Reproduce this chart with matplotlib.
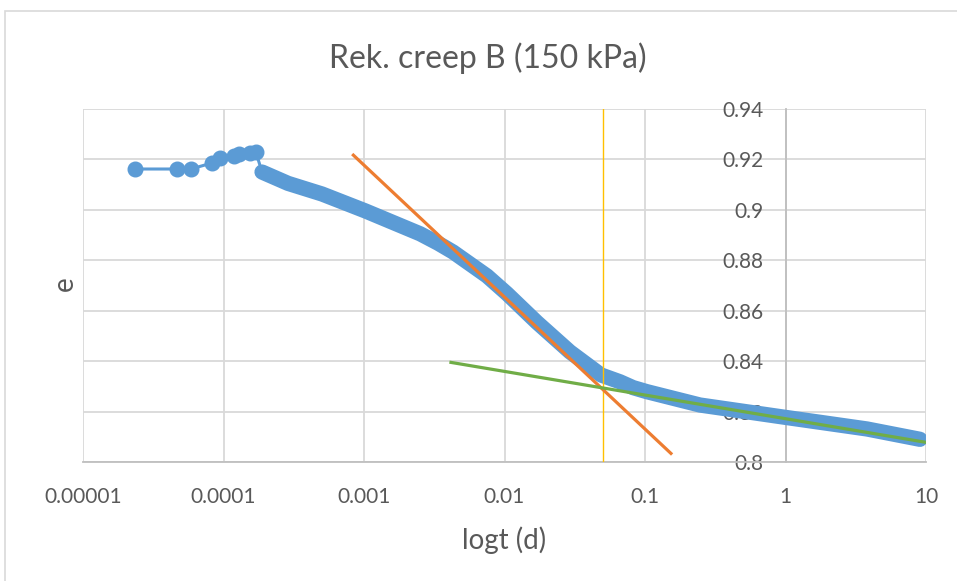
import numpy as np
import matplotlib.pyplot as plt
from matplotlib.patches import Rectangle

plt.rcParams['font.family'] = ['Lato', 'DejaVu Sans']

# measured series: time (d) vs void ratio e
t_sparse = [2.34e-5, 4.67e-5, 5.87e-5, 8.28e-5, 9.44e-5, 1.19e-4, 1.29e-4, 1.54e-4, 1.70e-4]
e_sparse = [0.9162, 0.9162, 0.9162, 0.9186, 0.9205, 0.9213, 0.9221, 0.9225, 0.9229]

t_dense = [1.88e-4, 2.88e-4, 5.02e-4, 1.02e-3, 1.96e-3, 2.51e-3, 3.36e-3, 4.30e-3,
           7.50e-3, 1.04e-2, 1.70e-2, 2.92e-2, 4.87e-2, 6.64e-2, 8.22e-2, 0.103,
           0.246, 1.0, 3.80, 9.06]
e_dense = [0.9150, 0.9105, 0.9063, 0.8996, 0.8930, 0.8905, 0.8868, 0.8833,
           0.8738, 0.8668, 0.8554, 0.8437, 0.8345, 0.8318, 0.8295, 0.8279,
           0.8226, 0.8177, 0.8131, 0.8090]

# tangent lines
t_orange = [8.4e-4, 0.153]
e_orange = [0.9217, 0.8034]
t_green = [0.00416, 10]
e_green = [0.8395, 0.8078]
t_yellow = 0.05

xticks = [1e-5, 1e-4, 1e-3, 1e-2, 1e-1, 1, 10]
xlabels = ['0.00001', '0.0001', '0.001', '0.01', '0.1', '1', '10']
yticks = [0.8, 0.82, 0.84, 0.86, 0.88, 0.9, 0.92, 0.94]
ylabels = ['0.8', '0.82', '0.84', '0.86', '0.88', '0.9', '0.92', '0.94']

blue, orange, green, yellow = '#5b9bd5', '#ed7d31', '#70ad47', '#ffc000'
txt = '#595959'

fig = plt.figure(figsize=(9.57, 5.81), dpi=100)
fig.patches.append(Rectangle((5 / 957, -0.1), 1.2, 1 - 11 / 581 + 0.1,
                             transform=fig.transFigure, fill=False,
                             edgecolor='#d9d9d9', linewidth=1.2))
ax = fig.add_axes([83 / 957, 1 - 462 / 581, 843 / 957, 353 / 581])

ax.set_xscale('log')
ax.set_xlim(1e-5, 10)
ax.set_ylim(0.8, 0.94)

ax.grid(True, color='#d9d9d9', linewidth=1.3)
ax.set_axisbelow(True)
for s in ['top', 'right']:
    ax.spines[s].set_visible(False)
ax.spines['left'].set_position(('data', 1))
ax.spines['left'].set_color('#bfbfbf')
ax.spines['left'].set_linewidth(1.3)
ax.spines['bottom'].set_color('#bfbfbf')
ax.spines['bottom'].set_linewidth(1.3)

ax.set_xticks(xticks)
ax.set_xticklabels(xlabels)
ax.minorticks_off()
ax.set_yticks(yticks)
ax.set_yticklabels(ylabels)
ax.tick_params(axis='both', length=0, colors=txt, labelsize=15)
ax.tick_params(axis='x', pad=18)
ax.tick_params(axis='y', pad=16)

# blue data series
ax.plot(t_sparse + t_dense[:1], e_sparse + e_dense[:1], color=blue, lw=2.2, zorder=3)
ax.plot(t_sparse, e_sparse, 'o', color=blue, ms=10.5, zorder=3)
ax.plot(t_dense, e_dense, color=blue, lw=11, solid_capstyle='round',
        solid_joinstyle='round', zorder=3)

ax.axvline(t_yellow, color=yellow, lw=1.0, zorder=4)
ax.plot(t_orange, e_orange, color=orange, lw=2.3, zorder=4)
ax.plot(t_green, e_green, color=green, lw=2.3, zorder=4)

fig.text(488 / 957, 1 - 58 / 581, 'Rek. creep B (150 kPa)', color=txt, fontsize=23,
         ha='center', va='center')
ax.set_xlabel('logt (d)', color=txt, fontsize=20)
ax.xaxis.label.set_va('center')
ax.xaxis.set_label_coords(0.5, -(540 - 462) / 353)
ax.set_ylabel('e', color=txt, fontsize=20)
ax.yaxis.label.set_va('center')
ax.yaxis.set_label_coords(-18 / 843, (462 - 284) / 353)

fig.savefig('out.png', dpi=100)
